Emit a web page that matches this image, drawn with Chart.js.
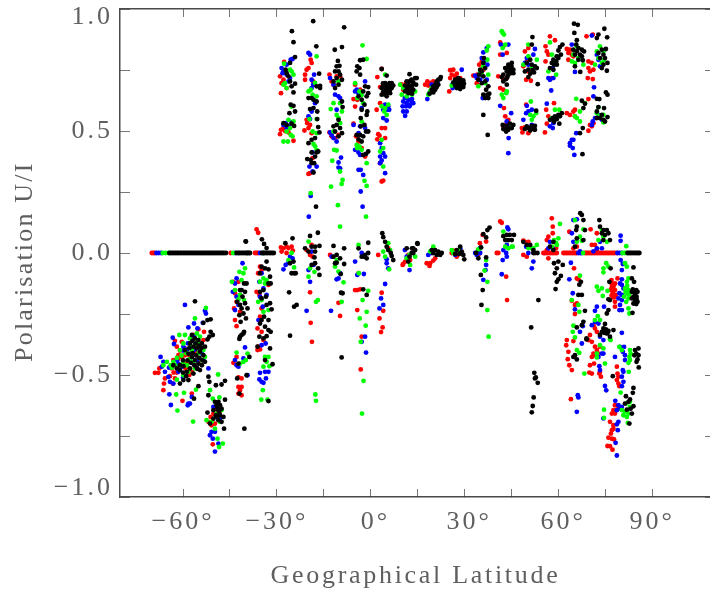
<!DOCTYPE html>
<html>
<head>
<meta charset="utf-8">
<title>Polarisation U/I</title>
<script src="https://cdn.jsdelivr.net/npm/chart.js@4"></script>
<style>
html, body { margin: 0; padding: 0; background: #fff; overflow: hidden; }
canvas { display: block; }
</style>
</head>
<body>
<canvas id="polChart" width="720" height="594"></canvas>
<script>
// tick values and labels
const latTicks = [-60, -45, -30, -15, 0, 15, 30, 45, 60, 75, 90];
const latLabels = ["\u221260\u00b0", "", "\u221230\u00b0", "", " 0\u00b0", "", " 30\u00b0", "", " 60\u00b0", "", "90\u00b0"];
const polTicks = [-1, -0.75, -0.5, -0.25, 0, 0.25, 0.5, 0.75, 1];
const polLabels = [["\u22121.0", ""], "", "\u22120.5", "", "0.0", "", "0.5", "", ["", "1.0"]];

// points, [latitude, U/I]
const redZero = [[-70,0],[-69.5,0],[-69,0],[-44.8,0],[-37,0],[-36.5,0],[-36,0],[55.2,0],[55.6,0],[56,0],[56.5,0],[57,0],[57.5,0],[58,0],[58.5,0],[59,0],[59.5,0],[61.6,0],[62,0],[62.5,0],[63,0],[63.5,0],[64,0],[64.5,0],[65,0],[65.5,0],[65.9,0],[68.5,0],[69,0],[69.5,0],[70,0],[70.5,0],[71,0],[71.5,0],[72,0],[72.5,0],[73,0],[73.5,0],[74,0],[74.5,0],[75,0],[75.5,0],[76,0],[76.5,0],[77,0],[77.5,0],[78,0],[78.7,0],[40.3,0],[40.8,0]];
const blueZero = [[-68.5,0],[-67.8,0],[-67,0],[-43.4,0],[-35.4,0],[66.4,0],[67,0],[67.5,0],[78.9,0],[79.6,0],[80.3,0]];
const greenZero = [[-66.5,0],[-65.6,0],[-64.7,0],[-44,0],[-34.3,0],[67.9,0],[80.5,0],[81.2,0],[81.9,0]];
const blackZero = [[-64.4,0],[-63.9,0],[-63.4,0],[-62.9,0],[-62.4,0],[-61.9,0],[-61.4,0],[-60.9,0],[-60.4,0],[-59.9,0],[-59.4,0],[-58.9,0],[-58.4,0],[-57.9,0],[-57.4,0],[-56.9,0],[-56.4,0],[-55.9,0],[-55.4,0],[-54.9,0],[-54.4,0],[-53.9,0],[-53.4,0],[-52.9,0],[-52.4,0],[-51.9,0],[-51.4,0],[-50.9,0],[-50.4,0],[-49.9,0],[-49.4,0],[-48.9,0],[-48.4,0],[-47.9,0],[-47.4,0],[-46.9,0],[-46.3,0],[-42.9,0],[-42.4,0],[-42,0],[-41.5,0],[-41,0],[-40.5,0],[-40,0],[-39.6,0],[-39.3,0],[-38.9,0],[-38.6,0],[-34.8,0],[-34.4,0],[-34,0],[-33.5,0],[-33,0],[-32.5,0],[-32,0],[-31.5,0],[-31,0],[82.1,0],[82.6,0],[83,0],[83.5,0],[84,0],[84.5,0],[85,0],[85.5,0],[85.9,0]];

const redUpper = [[-28.7,.655],[-27.7,.783],[-29,.724],[-27.9,.71],[-28.5,.696],[-26.9,.676],[-27.9,.512],[-28.7,.505],[-29,.487],[-27.4,.5],[-26.3,.494],[-24.7,.46],
[-19.2,.792],[-18.9,.779],[-21,.731],[-20.5,.751],[-19.9,.758],[-21,.71],[-18.4,.703],[-20.3,.532],[-19.4,.525],[-21.2,.502],[-19.9,.512],[-18.9,.491],[-18.6,.389],[-19.9,.324],[-19.4,.327],[-20.5,.546],
[-13.2,.731],[-12.5,.703],[-11.9,.69],[-10.9,.724],[-9.8,.724],[-13.2,.494],[-12.5,.478],[-11.4,.471],[-10.3,.484],
[-5.5,.631],[-5,.69],[-4.3,.628],[-3.4,.669],[-5.5,.53],[-4.7,.478],[-3.9,.457],[-2.9,.43],[-1.8,.395],[-5,.6],
[2.1,.721],[3,.68],[3.5,.754],[1.9,.587],[3,.614],[2.4,.487],[2.1,.466],[3.5,.512],[4.6,.512],[2.8,.481],[4.6,.471],[3.5,.293],[4,.297],[3,.368],
[9.9,.69],[10.4,.669],[11.3,.697],[12.1,.683],[9.6,.69],
[17.4,.69],[18.1,.703],[19,.697],[18.4,.686],[19.5,.669],[20,.703],
[25.4,.749],[26.4,.751],[25.4,.717],[25.9,.731],[25.1,.662],[27,.724],[27.5,.735],[28.6,.717],
[32.8,.727],[34.1,.731],[34.7,.772],[36,.751],[33.9,.696],[35.5,.785],
[41.4,.863],[42.4,.847],[41.4,.813],[43.5,.82],[40.8,.724],[41.4,.676],[42.4,.669],[43.5,.717],[42.4,.71],[42.6,.594],[43,.56],[44,.546],[42.4,.519],[43.5,.532],
[49.3,.826],[50.4,.84],[49.9,.785],[48.8,.765],[49.7,.71],[51.2,.706],[50.4,.744],[48.3,.512],[50.4,.491],[48.5,.494],[49.3,.515],[49.7,.608],
[57.3,.888],[55.9,.847],[58.9,.872],[56.3,.826],[56.8,.813],[55.9,.785],[57.9,.717],[58.6,.614],[56.1,.587],[56.8,.56],[55.7,.494],[56.3,.53],
[62.7,.836],[63.7,.833],[63.2,.82],[64.3,.813],[64.8,.806],[63.2,.792],[62.7,.573],[63.7,.566],[64.8,.58],[65.3,.56],[65.3,.587],
[69,.888],[71,.895],[69.6,.785],[70.7,.779],[69.6,.758],[70.1,.744],[71.2,.751],[69.4,.717],[71,.713],[69.6,.631],[70.1,.525],[70.7,.519],[69.6,.501],[71.2,.532]];
const blueUpper = [[-28.5,.758],[-27.9,.744],[-28.2,.737],[-26.9,.731],[-25.8,.717],[-26.3,.703],[-25.6,.792],[-25,.795],[-26.9,.772],[-27.9,.525],[-27.2,.532],[-26.3,.519],[-26.9,.512],[-25.3,.535],
[-19.9,.82],[-19.4,.813],[-18.9,.71],[-18.4,.69],[-18.9,.676],[-18.1,.731],[-17.8,.614],[-18.9,.58],[-19.9,.56],[-19.4,.549],[-18.6,.412],[-19.6,.354],[-18.6,.334],[-19.2,.234],[-19.8,.149],[-17.3,.354],
[-13,.717],[-11.9,.69],[-11.4,.649],[-10.3,.642],[-9.8,.635],[-10.9,.587],[-13,.494],[-11.9,.471],[-10.9,.457],[-12.5,.484],[-9.5,.391],[-10.3,.371],[-10.3,.35],[-9.8,.347],
[-1.8,.703],[-4.5,.669],[-5,.662],[-3.9,.655],[-2.9,.594],[-5.5,.525],[-3.4,.519],[-3.9,.491],[-1.8,.512],[-5,.423],[-3.9,.412],[-3.4,.402],[-3.9,.341],[-3.2,.341],[-2.4,.32],[-3.2,.252],[-2.6,.19],
[5.6,.601],[5.1,.587],[5.9,.587],[4,.587],[4.6,.608],[4,.553],[5.1,.543],[3,.45],[3.5,.43],[4,.409],[3,.395],[4.6,.395],[3.5,.379],[3,.368],[4.6,.327],
[10.4,.621],[11.5,.614],[12.6,.608],[13.6,.614],[10.2,.601],[11.3,.601],[12.4,.601],[10.4,.58],[11.5,.58],[11,.562],[12,.628],[13.2,.631],[10.9,.635],[13.1,.62],
[18.1,.631],[18.8,.655],[19.5,.69],[20.6,.672],[21.3,.699],
[26.1,.69],[27,.703],[29.1,.751],[28.4,.699],[26.2,.676],
[36,.822],[37.1,.84],[35.5,.799],[36.2,.785],[37.3,.772],[33.9,.717],[35,.71],[33.4,.727],[35.8,.635],[37.1,.71],
[41.6,.854],[42.2,.813],[44,.854],[41.4,.603],[44.9,.573],[44.1,.471],[44,.409],[43.5,.539],
[49.9,.799],[49.3,.779],[50.4,.772],[52.5,.836],[52,.813],[51.5,.587],[49.9,.603],[50.4,.58],[48.8,.546],[49.7,.573],[51.5,.525],
[57.7,.666],[57.3,.71],[58.4,.717],[56.8,.717],[58.2,.758],[57.3,.519],[58.4,.532],[56.3,.612],[58.2,.512],
[64.3,.854],[65.3,.742],[64.3,.464],[63.7,.45],[64.8,.464],[64.6,.43],[65.1,.402],[65.7,.491],[63.7,.44],
[70.7,.891],[71.4,.679],[71.2,.642],[72.3,.813],[72.8,.792],[73.3,.765],[71.7,.553],[72.8,.566],[71,.539],[73.9,.546],[70.7,.525]];
const greenUpper = [[-27.7,.776],[-27.4,.696],[-25.8,.751],[-25.3,.744],[-24.7,.731],[-26.9,.676],[-27.9,.69],[-25.3,.6],[-26.3,.546],[-24.7,.539],[-25.8,.512],[-26.9,.498],[-25.6,.484],[-27.9,.457],[-26.5,.457],[-25,.478],
[-17.3,.806],[-19.2,.669],[-19.9,.662],[-17.8,.697],[-18.6,.649],[-17.3,.642],[-19.6,.549],[-17.3,.549],[-18.6,.498],[-17.3,.491],[-18.3,.447],[-17.8,.437],[-17.3,.423],[-19.2,.245],
[-10.3,.703],[-11.9,.614],[-12.8,.59],[-9.8,.614],[-10.9,.566],[-10.3,.553],[-9.2,.58],[-9.8,.532],[-11.9,.498],[-11.7,.423],[-10.9,.42],[-12.3,.378],[-9.8,.334],[-9,.3],[-9.3,.283],[-12.7,.272],[-10.5,.196],[-9.8,.108],
[-2.6,.851],[-1.3,.795],[-5,.696],[-3.6,.662],[-4.3,.635],[-2.9,.648],[-2.4,.614],[-2.9,.539],[-4.5,.443],[-3.6,.436],[-2.9,.423],[-4.3,.43],[-1.3,.368],[-2,.296],[-1.3,.275],[-1.5,.149],
[4.6,.731],[4,.676],[3.5,.601],[4.6,.594],[4.3,.58],[5.6,.608],[5.1,.566],[3.5,.464],[4,.43],[3,.416],[4,.354],
[10.4,.676],[11.5,.642],[13.2,.649],[14.2,.662],[9.4,.69],[12.4,.669],[9.9,.649],
[18.4,.649],[19.5,.676],[19,.662],[21.1,.696],
[27,.69],[29.6,.696],[25.9,.686],[28,.68],
[37.6,.847],[37.1,.83],[36,.765],[35.5,.731],[37.6,.731],[35,.744],[36.6,.696],[34.4,.683],[37.3,.792],
[41.9,.909],[42.6,.895],[42.2,.902],[43,.854],[42.2,.84],[42.4,.635],[43.3,.655],[41.9,.649],[43.5,.662],
[50.4,.854],[51.5,.758],[53.1,.792],[48.8,.772],[50.4,.806],[52.5,.765],[51.2,.621],[52,.56],[51,.566],[52.9,.573],[51.5,.546],
[57.3,.863],[57.9,.813],[58.9,.779],[59.5,.806],[56.8,.744],[59.3,.731],[60.3,.587],[58.9,.587],[57.9,.553],
[65.7,.632],[65.9,.847],[64.8,.813],[66.4,.799],[65.3,.779],[68,.772],[64.3,.785],[66.9,.58],[65.9,.553],[66.9,.539],[65.3,.56],[68.5,.614],
[73.3,.847],[72.3,.826],[74.4,.826],[72.8,.799],[73.9,.779],[71.7,.772],[74.6,.792],[72.8,.597],[74.4,.566],[73.3,.56],[72.3,.573],[74.4,.535]];
const blackUpper = [[-25.2,.909],[-24.7,.864],[-24.2,.803],[-25.8,.779],[-27.2,.751],[-26.9,.737],[-26.3,.724],[-25.8,.703],[-24.7,.658],[-24.2,.694],[-25.3,.683],[-25.6,.608],[-24.7,.603],[-26,.573],[-24.2,.58],[-27.9,.532],[-26.9,.525],[-25.3,.53],[-24.5,.521],
[-18.4,.95],[-17.4,.847],[-16.5,.735],[-16.2,.685],[-17.3,.683],[-18.9,.635],[-19.9,.635],[-18.3,.628],[-17.3,.621],[-19.4,.59],[-18.3,.594],[-17.1,.549],[-16.8,.516],[-16.4,.494],[-17.8,.471],[-18.9,.464],[-19.9,.45],[-18.9,.412],[-17.3,.412],[-16.8,.416],[-17.8,.395],[-19.2,.382],[-18.1,.368],[-18.3,.33],[-18.9,.368],[-16.2,.676],[-17.1,.58],[-20.3,.385],[-17.5,.19],
[-8.5,.925],[-9.2,.844],[-11.5,.833],[-10.5,.787],[-10.9,.765],[-10,.767],[-11.4,.744],[-10.3,.744],[-10.9,.717],[-9.8,.731],[-9.2,.71],[-11.9,.703],[-10.3,.69],[-11.4,.676],[-9.2,.621],[-9,.598],[-10.3,.546],[-11.9,.519],[-10.9,.525],[-9.8,.512],[-11.4,.498],[-9.2,.491],[-10.3,.478],
[-3.4,.79],[-2.4,.792],[-4.3,.765],[-3.6,.758],[-4.5,.744],[-3.4,.731],[-1.8,.683],[-.8,.68],[-2.4,.662],[-.8,.655],[-1.3,.642],[-2.9,.628],[-3.9,.642],[-2,.608],[-1.1,.58],[-2.9,.587],[-1.3,.566],[-3.2,.553],[-2,.525],[-3.2,.519],[-1.5,.498],[-.8,.498],[-3.4,.484],[-4.5,.484],[-2.4,.478],[-3.9,.466],[-2.9,.457],[-.8,.416],[-2.4,.402],[-1.5,.406],
[3.5,.754],[5.1,.727],[4.6,.696],[5.6,.69],[6.7,.696],[3.5,.676],[4.6,.676],[5.6,.676],[6.7,.676],[7.2,.686],[4,.662],[5.1,.655],[6.2,.655],[3.5,.649],[5.1,.642],[5.1,.686],[4,.686],[6.2,.669],[4.6,.666],[6,.696],
[4.2,.68],[5,.67],[5.8,.66],[6.4,.685],[4.4,.65],[3.9,.695],
[12.4,.733],[14.2,.717],[14.7,.717],[11.5,.703],[12.4,.703],[13.6,.699],[11,.686],[12.1,.686],[13.2,.686],[14.5,.69],[11.5,.669],[12.4,.669],[13.6,.669],[12.1,.655],[13.2,.653],[11,.662],
[12,.675],[13,.675],[12.8,.66],[12,.7],[13,.71],
[22.4,.721],[21.6,.71],[21.1,.703],[20.6,.69],[21.6,.69],[20,.683],[21.1,.68],[19.5,.669],[20.6,.669],[18.8,.653],[20,.658],[22.2,.713],
[28,.717],[27,.71],[28.6,.71],[29.6,.707],[26.4,.699],[27.5,.699],[28.6,.696],[29.8,.694],[27,.686],[28,.686],[29.1,.683],[27.5,.676],[28.6,.672],[29.6,.68],
[36.2,.799],[36,.779],[36.6,.758],[35.5,.744],[35,.751],[34.7,.731],[36,.724],[34.4,.71],[36.6,.703],[35.5,.696],[37.6,.683],[36.9,.669],[37.9,.653],[37.3,.649],[36,.649],[36.6,.635],[37.6,.635],[36,.566],[37.4,.484],
[45.1,.779],[44,.772],[43,.758],[44.5,.758],[45.6,.751],[43.5,.744],[44.8,.737],[42.4,.731],[44,.731],[43.7,.721],[45.6,.737],[41.9,.721],[43.3,.713],[42.4,.703],[43.5,.69],
[44.6,.745],[43.8,.76],[45,.765],
[42.2,.525],[43.5,.521],[44.5,.53],[45.6,.525],[43,.508],[44,.512],[45.1,.512],[43.3,.498],[44,.505],[42.4,.508],
[51.7,.885],[51.5,.854],[51,.792],[49.9,.779],[51.5,.772],[52.5,.765],[53.1,.758],[50.4,.751],[51.8,.749],[49.3,.744],[51,.735],[52.2,.74],[50.4,.721],[53.4,.692],
[52.9,.583],[49.9,.519],[51.5,.521],[52.5,.521],[50.4,.512],[52,.508],[51,.502],[49.3,.508],[52.5,.505],
[61.3,.854],[60.5,.844],[60,.83],[60.8,.813],[59.5,.806],[60,.799],[58.4,.792],[59.3,.785],[57.9,.779],[58.6,.772],[59.5,.772],[57.3,.758],[58.4,.751],
[61.1,.573],[60,.566],[58.9,.56],[60.5,.56],[59.5,.549],[58.2,.553],[58.6,.539],[60.3,.53],[57.3,.546],
[65,.94],[66.2,.935],[65.1,.902],[65.9,.872],[65.7,.854],[64.8,.833],[66.4,.84],[67.5,.833],[65.9,.826],[68.2,.826],[66.9,.813],[65.3,.813],[67.5,.806],[66.4,.792],[67.8,.79],[65.3,.765],[67,.742],
[67.5,.624],[68.5,.612],[68,.594],[67.8,.512],[66.9,.491],[67.7,.405],
[74.7,.919],[72.8,.895],[72.3,.881],[75.6,.884],[75.2,.836],[73.9,.833],[72.8,.82],[74.4,.813],[73.3,.799],[74.9,.799],[75.7,.779],[74.4,.772],[73.9,.758],[75.5,.747],
[75.2,.658],[75.7,.649],[72.3,.632],[73.1,.631],[72.8,.598],[74.6,.594],[72.3,.58],[73.9,.566],[75.7,.557],[73.3,.553],[74.4,.546],[72.3,.553],[74.9,.539]];

const redNearZero = [[-36.5,.097],[-36,.083],[-27.9,.019],[-28.5,.006],[-26.9,0],[-25.3,.026],[-26.9,.026],[-28.7,.023],[-26.3,.02],[-24.9,.01],
[-20.5,.012],[-19.4,-.008],[-18.6,-.015],[-18.9,.033],[-19.4,-.161],[-19.2,-.286],[-18.8,-.364],
[-13,-.008],[-10.3,-.204],[-9.8,-.258],
[-5,-.152],[-4.3,-.152],[-3.4,-.149],[-3.9,-.083],[-4.3,-.234],[-2.9,-.343],[-3.2,-.477],
[2.4,-.008],[3.5,-.163],[4,-.237],[2.8,-.268],[3.8,-.305],[3.3,-.324],[5.6,.019],
[10.4,-.045],[12,-.008],[11,-.035],[10.2,-.049],[12.6,-.029],
[17.9,-.042],[19,-.042],[20,-.031],[18.8,-.053],[20.6,-.022],
[26.4,.01],[27.5,-.015],[25.9,0],
[35.8,.074],[34.9,.04],[34.4,.01],[36.9,.047],[34.4,-.008],
[41.4,.129],[41.9,.124],[43.3,-.097],[43.6,-.193],
[48.8,.051],[50.4,.046],[49.3,.046],[48.8,-.008],[49.9,-.015],
[57.9,.142],[58.2,.108],[58.2,.081],[56.8,.067],[56.3,.053],[56.3,.012],[59.3,.02],[56.8,-.022],
[63.5,.087],[64.8,.019],[65.9,.026],[65,-.063],[65.9,-.104],[66.4,-.108],[64.3,-.196],[65.9,-.207],[65.3,-.213],[65.3,-.25],[62.7,-.357],[62.5,-.378],[64.8,-.361],[63.2,-.405],[63,-.435],[63.5,-.46],[64.3,-.48],[64,-.599],
[70.3,.097],[72.3,.081],[70.7,.033],[71.7,.033],[72.3,.012],
[77,-.125],[78.1,-.125],[77.6,-.138],[76.7,-.152],[78.1,-.152],[77.4,-.165],[78.4,-.172],[77.6,-.182],[78.1,-.2],[78.1,-.22],[77,-.111],[78.9,-.104],
[77.1,-.14],[77.5,-.155],[78,-.18],[77,-.175],[77.8,-.13],
[71.2,-.296],[71.7,-.309],[70.1,-.336],[72.3,-.323],[70.7,-.364],[69.6,-.357],[71.7,-.384],[73.3,-.384],[72.3,-.398],[71.2,-.412],[72.8,-.412],[70.7,-.426],[70.1,-.46],[71.4,-.453],[69.9,-.49],[70.7,-.494],[73.1,-.494],[73.6,-.507],[73.3,-.487],[71.7,-.419],
[78.1,-.624],[79.2,-.631],[77.6,-.644],[77.1,-.658],[78.1,-.658],[76.5,-.692],[77.6,-.706],[77.1,-.726],[77.6,-.72],[76.8,-.74],[76,-.757],[77.1,-.761],[77.8,-.764],[75.7,-.791],[76.5,-.792],[77.3,-.806],[78.7,-.466],[78.9,-.494],[79.2,-.507],[78.7,-.521],[79.2,-.535],[79.5,-.546]];
const blueNearZero = [[-27.9,-.067],[-27.2,-.049],[-25.8,-.015],[-25,-.022],[-26.3,-.04],
[-19.9,-.07],[-19.4,-.118],[-20.5,-.237],[-18.3,-.049],[-18.9,.006],
[-12.5,-.015],[-10.9,-.108],[-10.3,-.104],[-12.7,-.237],[-9.8,-.083],
[-1.5,-.408],[-2.2,-.086],[-1.8,-.343],[-5,-.035],[-2.9,0],[-4.3,-.09],[-2.9,-.364],
[4.6,-.127],[3.3,-.186],[4,-.213],[2.8,-.227],[5.1,-.042],[5.6,-.063],[5.1,-.026],
[10.9,.012],[12.4,-.07],[11.5,-.015],
[18.4,-.008],[19.5,0],[20,.012],
[27,-.008],[28.6,.019],
[34.9,.02],[33.4,0],[33.9,-.008],[36.9,-.049],[36.7,-.07],[36,-.11],[35,0],
[43.7,.105],[44,.097],[43.5,.033],[42.4,.012],[43.3,0],[43.5,-.015],[41.9,-.087],[42.2,-.029],
[49.9,.026],[50.4,0],[52,-.035],[51.5,-.063],[49.7,.026],
[57.3,.046],[58.2,.019],[56.8,.019],
[64.8,.135],[65.9,.138],[64.3,.081],[64.8,.046],[66.9,.007],[64,-.04],[63.5,-.108],[64.6,-.165],[65.3,-.231],[66.9,-.323],[67.5,-.371],[66.2,-.583],[66.4,-.592],[65.9,-.651],[67.8,-.3],
[71.2,.007],[72.3,.019],[73.9,.019],[79.9,.071],[79.9,.05],[73.3,.046],
[79.9,-.029],[80.6,-.045],[80.3,-.07],[80.3,-.108],[79.7,-.125],[80.3,-.131],[80.8,-.145],[79.5,-.165],[80.3,-.172],[79.2,-.186],[80.3,-.193],[79.7,-.213],[79.5,-.234],[80.3,-.234],[80.3,-.327],
[78.2,-.606],[79.2,-.624],[79.7,-.638],[78.7,-.644],[80.3,-.631],[79.2,-.692],[78.7,-.702],[79,-.726],[78.3,-.778],[78.7,-.83],[74.4,-.678],[80.8,-.487],[80.3,-.507],[80.8,-.528],[80.3,-.546],[74.9,-.545],[75.3,-.563],
[79.7,-.385],[81,-.385],[80.6,-.405],[81.3,-.419],[78.1,-.426],[81.3,-.439],[80.6,-.48],
[72.3,-.22],[74.6,-.22],[71.7,-.237],[71.7,-.282],[72.8,-.289],[70.7,-.296],[74.4,-.357],[73.3,-.343],[73.9,-.412],[72.8,-.426],[74.4,-.412],[73.1,-.464],[73.3,-.48]];
const greenNearZero = [[-26.3,-.029],[-24.5,-.059],[-25.3,0],
[-19.9,-.097],[-19.9,.047],[-19.4,-.063],[-18,-.077],[-16.9,-.193],[-17.5,-.2],[-17.7,-.58],[-17.5,-.606],
[-10.9,-.029],[-11.4,-.056],[-8.7,-.12],[-9.3,-.2],[-10.3,-.076],
[-3.9,.033],[-3.5,-.268],[-.8,-.155],[-1.3,-.241],[-1.6,-.298],[-2.6,-.193],[-3.2,-.364],[-2.3,-.524],[-2.8,-.658],[-3.8,-.083],
[4,.006],[4.6,-.015],[6.2,.012],[5.6,.04],[5.9,-.067],
[11.5,-.022],[14.2,-.015],[12.4,-.008],[12.6,-.049],
[20,.026],[19,.006],
[26.4,0],[28,.012],[25.9,.012],
[34.4,.015],[35,.019],[36.9,-.029],[36.4,-.072],[37.3,-.118],[37.3,-.234],[37.7,-.343],
[42.4,.088],[43.5,.053],[45.1,.026],[44,.019],[43,.026],[45.4,.026],
[50.4,.02],[52,.02],[53.1,.033],[51.5,.019],
[60.5,.119],[60,.06],[58.6,.053],[57.9,.026],[59.5,.033],[59.3,.04],
[65.3,.135],[68,.097],[66.9,.067],[65.9,.046],[67.5,.05],[66.9,-.093],[64.3,-.193],[66.4,-.213],[66.7,-.241],[64.8,-.298],[64.6,-.323],[65.3,-.346],[66.7,-.409],[68.3,-.494],[65.9,-.398],
[73.9,.094],[72.8,.053],[74.4,.067],[75.5,.046],[81.7,.028],
[74.4,-.063],[75.3,-.042],[76,-.056],[74.4,-.079],[72.3,-.138],[73.9,-.145],[72.8,-.155],[75.7,-.155],[74.2,-.176],[81.3,-.042],[81.9,-.056],[82.4,-.104],[81.9,-.118],[81.3,-.145],[82.4,-.152],[81.9,-.165],[81,-.179],[82.4,-.186],[81.7,-.2],[82.4,-.227],[82.7,-.248],
[82,-.135],[82.6,-.17],[81.5,-.16],
[79.9,-.572],[81.7,-.617],[82.9,-.631],[80.3,-.644],[81.3,-.651],[82.4,-.658],[80.8,-.665],[81.9,-.672],[82.2,-.696],[74.6,-.642],[74.6,-.676],[82.9,-.61],
[79.5,-.385],[80.3,-.398],[82.9,-.398],[83.1,-.412],[82.7,-.426],[82.9,-.439],[82.4,-.45],[82.5,-.487],
[72.6,-.259],[73.3,-.275],[71.7,-.275],[76.5,-.353],[73.3,-.378],[72.3,-.412],[74.4,-.391],[72.3,-.428],[74.9,-.453],[76.7,-.357]];
const blackNearZero = [[-40,.048],[-34.8,.056],[-34.1,.037],[-33.3,.02],[-27.3,.04],[-25,.06],[-24.5,-.083],[-24,-.083],[-25.3,-.083],[-24.7,-.035],[-25.8,-.042],[-26.1,-.161],[-24.5,-.22],[-23.7,-.213],[-25.8,-.339],
[-16.9,.083],[-19.4,.07],[-21,.019],[-18.9,.026],[-17.8,.026],[-16.4,.029],[-19.9,.006],[-17.8,.006],[-18.9,-.049],[-17.8,-.042],[-16.8,-.063],[-16.4,-.09],[-18,-.018],
[-11.9,.029],[-8.5,.019],[-11.9,-.015],[-10.9,-.008],[-9.8,-.022],[-10.9,-.04],[-8.5,-.045],[-11.4,-.042],[-9.6,-.086],[-9.5,-.163],[-9,-.165],[-9.3,-.428],
[-.8,.042],[-3.9,.019],[-1.8,-.008],[-2.9,-.015],[-.8,0],[-1.3,-.022],[-2.2,-.015],[-2.4,-.149],[-1.3,-.172],
[3.7,.081],[4,.065],[4.6,.046],[5.1,.026],[5.6,.012],[6.4,0],[6.7,-.012],[7.2,-.029],
[15,.037],[13.2,.019],[14.2,.012],[12.4,-.015],[13.6,0],[13.6,.019],[11.5,.019],[13.1,0],[12,-.035],[14.9,.04],
[19.5,.012],[20.6,.012],[21.6,.006],[22.7,0],[21.1,-.008],[20,0],[22.2,-.008],
[28.6,.026],[27.5,.012],[29.1,.006],[28.3,-.004],[29.6,-.008],[29.9,-.026],[27,-.004],
[38,.104],[37.3,.094],[36,.077],[36.9,.064],[35.3,.023],[36.9,-.018],[35.2,-.09],[35.8,-.152],[35.4,-.213],[34.4,-.022],[33.7,0],
[42.4,.069],[43.5,.074],[44.5,.074],[45.8,.074],[45.1,.053],[44,.053],[43,.053],
[48.8,.046],[49.9,.033],[51,.033],[52,.012],[53.3,0],[52,0],[52.5,0],[53.6,-.193],[51.3,-.305],[52.3,-.491],[52.8,-.51],[53.4,-.532],[52.1,-.592],[51.8,-.627],[51.5,-.653],[52.5,-.514],
[58.4,.046],[57.3,.026],[58.4,.012],[58.6,-.042],[60,-.035],[61.4,-.049],[59.5,-.063],[58.9,-.083],[60.8,-.094],[60,-.108],[59.5,-.118],[59.1,-.148],
[67,.163],[67.5,.156],[68,.135],[65.9,.108],[65.7,.094],[68.5,.094],[68,.053],[65.9,.06],[65.3,.026],[67.2,-.118],[66.7,-.13],[66.4,-.172],[67.5,-.172],[68.5,-.237],[68,-.282],[67.5,-.296],[65.9,-.305],[69,-.354],[64.8,-.426],[65.3,-.419],[65.9,-.436],
[73.1,.135],[73.3,.108],[74.4,.094],[75.5,.094],[73.9,.081],[74.9,.074],[76,.081],[74.4,.053],[76.5,.053],
[84,-.059],[83.5,-.104],[84.2,-.118],[83.8,-.149],[84.9,-.152],[83.5,-.159],[84.5,-.165],[85.3,-.159],[84,-.179],[85,-.179],[83.5,-.186],[84.5,-.193],[85.3,-.2],[84,-.207],[84.9,-.209],[83.7,-.245],[76.7,-.063],[76.3,-.118],[76,-.19],[76,-.234],[75.5,-.248],[76.5,-.193],
[84.6,-.175],[84.2,-.16],[85,-.19],
[74.4,-.309],[75.2,-.313],[76,-.319],[73.9,-.323],[74.6,-.327],[75.5,-.33],[73.3,-.336],[76.5,-.343],[77.6,-.316],[74.9,-.291],[69,-.35],[75,-.32],[75.8,-.325],
[85.6,-.391],[84.5,-.398],[84.9,-.412],[85.6,-.419],[84.3,-.419],[85.3,-.436],[85,-.446],[85.7,-.469],
[84,-.553],[83.8,-.573],[81.6,-.587],[82.9,-.6],[82.4,-.61],[81.3,-.617],[84,-.628],[83.1,-.638],[81.9,-.642],[83.5,-.658],[82.7,-.699],[77.4,-.505]];

const redSouth = [[-69,-.491],[-67.9,-.491],[-67.6,-.473],[-65.8,-.514],[-66.1,-.535],[-66.3,-.562],[-63.3,-.535],[-62.6,-.514],[-61.5,-.419],[-60.4,-.426],[-61.8,-.436],[-59.9,-.453],[-62.6,-.36],[-62,-.384],[-63.6,-.473],[-64.2,-.505],[-60.4,-.364],[-59.4,-.419],[-58.8,-.453],[-57.2,-.576],[-60.2,-.606],[-56.7,-.336],[-58,-.371],[-55.1,-.313],[-53.3,-.323],[-53.5,-.357],[-54.6,-.439],[-56.2,-.466],[-57.2,-.487],[-59.2,-.473],[-63.1,-.439],[-61.2,-.428],
[-61,-.4],[-59.5,-.39],[-61,-.47],[-58,-.42],[-56,-.41],[-62,-.49],[-63,-.49],[-58,-.5],
[-51.2,-.672],[-50.3,-.658],[-49.3,-.638],[-48.2,-.651],[-50.9,-.706],[-49.8,-.699],[-50.5,-.784],[-51.9,-.692],
[-43.4,-.275],[-42.9,-.3],[-44.1,-.118],[-42.3,-.118],[-43.4,-.165],[-42.9,-.2],[-43.7,-.227],[-41.8,-.241],[-43.9,-.45],[-42.9,-.426],[-42.3,-.51],[-41.3,-.514],[-42.3,-.549],[-41.3,-.549],[-42.3,-.576],[-41.3,-.583],[-41.8,-.562],
[-35.4,-.056],[-34.9,-.07],[-36,-.083],[-36.5,-.159],[-35.6,-.172],[-34.9,-.227],[-35.4,-.261],[-36.2,-.309],[-34.9,-.323],[-36,-.384],[-35.4,-.395],[-36.2,-.398],[-34.3,-.357],[-32.7,-.131]];
const blueSouth = [[-59.4,-.213],[-53,-.237],[-52.7,-.248],[-56.5,-.289],[-58.3,-.305],[-55.4,-.309],[-56.5,-.343],[-63.3,-.347],[-62.9,-.373],[-59.9,-.384],[-58.8,-.395],[-67.2,-.426],[-66.3,-.446],[-66.8,-.466],[-65.8,-.487],[-64.7,-.508],[-64.2,-.528],[-63.1,-.535],[-64.4,-.579],[-63.9,-.623],[-58.3,-.617],[-57.8,-.617],[-58.5,-.624],[-61.5,-.453],[-60.4,-.466],[-57.8,-.439],[-57.2,-.59],[-54,-.412],[-51.9,-.473],[-53.5,-.439],[-56.2,-.395],[-54.6,-.384],[-55.1,-.371],[-53.7,-.286],[-61.5,-.487],
[-60,-.4],[-58.5,-.37],[-57,-.41],[-62,-.44],[-64.5,-.47],[-60,-.51],[-55.5,-.44],
[-51.4,-.747],[-50.5,-.761],[-49.8,-.733],[-50.9,-.733],[-48.7,-.781],[-49.8,-.814],[-50.3,-.631],[-48.2,-.679],[-49.3,-.672],
[-41,-.042],[-42.9,-.104],[-43.4,-.125],[-44.1,-.159],[-42.9,-.179],[-42.3,-.213],[-43.4,-.234],[-40.2,-.387],[-43.4,-.439],[-42.3,-.466],[-40.7,-.432],[-39.4,-.501],[-42.9,-.46],
[-34.9,-.083],[-35.6,-.118],[-34.3,-.145],[-35.4,-.179],[-33.3,-.172],[-34.5,-.22],[-35.9,-.275],[-33.6,-.371],[-34.9,-.378],[-33.8,-.487],[-32.7,-.487],[-35.4,-.491],[-33.5,-.514],[-34.3,-.532],[-35.6,-.518],[-34.9,-.528]];
const greenSouth = [[-52.7,-.225],[-56.2,-.268],[-61.2,-.336],[-59.4,-.336],[-54.6,-.343],[-57.8,-.35],[-55.1,-.364],[-56.2,-.378],[-59.9,-.371],[-61,-.398],[-57.2,-.398],[-54.6,-.405],[-65.2,-.446],[-63.1,-.446],[-63.6,-.47],[-62.6,-.46],[-61,-.46],[-58.8,-.46],[-58.3,-.487],[-59.9,-.501],[-62,-.519],[-56.2,-.473],[-56.7,-.446],[-53,-.426],[-62.2,-.58],[-59.7,-.573],[-55.9,-.56],[-61.8,-.646],[-56.8,-.691],[-54,-.439],[-55.6,-.33],[-66.3,-.46],[-53.5,-.398],
[-57.5,-.385],[-55,-.41],[-60.5,-.42],[-62,-.43],[-58,-.435],[-59,-.41],[-60,-.45],[-64,-.46],
[-48.8,-.498],[-51.4,-.562],[-50.5,-.597],[-48.4,-.592],[-47.7,-.644],[-49.3,-.658],[-52.5,-.685],[-50.9,-.692],[-48.2,-.692],[-49.8,-.72],[-49,-.761],[-47.3,-.781],[-48.5,-.795],
[-40.2,-.063],[-40.7,-.083],[-42,-.077],[-44.4,-.118],[-41.3,-.111],[-43.4,-.152],[-41.8,-.172],[-40.5,-.193],[-42.3,-.19],[-42.9,-.408],[-41.8,-.453],[-40.7,-.446],[-39.9,-.439],[-39.4,-.412],
[-35.4,-.118],[-34.3,-.104],[-33.8,-.125],[-33.3,-.111],[-36,-.2],[-34.9,-.193],[-32.7,-.234],[-34.3,-.241],[-33.8,-.426],[-32.7,-.426],[-33.3,-.446],[-34.3,-.466],[-32.4,-.464],[-34.5,-.562],[-35,-.601],[-33,-.601]];
const blackSouth = [[-56.2,-.198],[-52.2,-.275],[-51.2,-.272],[-53.5,-.286],[-51.2,-.323],[-50.5,-.336],[-51.6,-.343],[-52.2,-.354],[-57.2,-.336],[-56.2,-.35],[-55.1,-.357],[-54,-.371],[-53,-.384],[-57.8,-.371],[-56.7,-.384],[-55.6,-.391],[-54.6,-.405],[-53.5,-.419],[-59.4,-.398],[-58.3,-.412],[-57.2,-.426],[-56.2,-.439],[-55.1,-.453],[-54,-.46],[-53,-.446],[-63.1,-.46],[-62,-.473],[-61,-.48],[-59.9,-.464],[-58.8,-.487],[-57.8,-.473],[-56.7,-.494],[-55.6,-.47],[-54.6,-.48],[-51.9,-.507],[-61,-.535],[-55.1,-.546],[-58.3,-.521],[-59.9,-.521],[-56.5,-.597],[-51.6,-.528],[-51.9,-.583],
[-57,-.36],[-56,-.37],[-55,-.38],[-54.2,-.39],[-58,-.39],[-57,-.41],[-55.8,-.42],[-54.8,-.43],[-53.8,-.44],[-58.6,-.44],[-57.5,-.45],[-56.4,-.46],[-55.4,-.475],[-60,-.44],[-61,-.46],[-60,-.49],[-59,-.505],
[-46.6,-.524],[-47.7,-.539],[-49.5,-.542],[-46.6,-.601],[-49.8,-.61],[-48.7,-.61],[-49.3,-.624],[-48.2,-.624],[-50.3,-.644],[-48.7,-.644],[-47.7,-.638],[-52.2,-.654],[-49.5,-.665],[-48.2,-.665],[-47.1,-.672],[-50.3,-.679],[-48.7,-.685],[-47.7,-.692],[-51.4,-.699],[-46.9,-.72],[-49,-.635],[-48.5,-.65],[-49,-.67],
[-39.9,.047],[-40.5,-.125],[-39.7,-.125],[-41.3,-.152],[-40.2,-.159],[-41.8,-.152],[-41,-.179],[-42.7,-.2],[-41.8,-.213],[-40.2,-.206],[-39.4,-.227],[-41.3,-.227],[-40.7,-.248],[-42,-.255],[-39.9,-.268],[-41.6,-.282],[-40.7,-.33],[-41.3,-.336],[-41.8,-.343],[-40.5,-.323],[-42,-.352],[-38.8,-.426],[-42.3,-.453],[-42.7,-.514],[-39.7,-.501],[-40.4,-.72],[-42,-.576],
[-33.3,-.035],[-34.9,-.056],[-33.8,-.063],[-32.7,-.067],[-35.4,-.083],[-32.2,-.097],[-32.7,-.125],[-32,-.125],[-34.3,-.152],[-35.4,-.159],[-33.5,-.179],[-34.9,-.186],[-32.2,-.206],[-33.3,-.213],[-31.7,-.231],[-34.1,-.261],[-34.9,-.275],[-32.7,-.275],[-35.4,-.289],[-33.8,-.302],[-32.7,-.316],[-32,-.323],[-33.3,-.341],[-34.3,-.35],[-35.6,-.343],[-32.2,-.391],[-36.2,-.384],[-31.4,-.456],[-32.7,-.607],[-33.8,-.439]];

const redPoints = [...redZero, ...redUpper, ...redNearZero, ...redSouth];
const bluePoints = [...blueZero, ...blueUpper, ...blueNearZero, ...blueSouth];
const greenPoints = [...greenZero, ...greenUpper, ...greenNearZero, ...greenSouth];
const blackPoints = [...blackZero, ...blackUpper, ...blackNearZero, ...blackSouth];

function toXY(list) {
    return list.map(p => ({ x: p[0], y: p[1] }));
}

// ticks point inwards, and no outside margins get reserved
function fixedBox(size) {
    return function (scale) {
        if (scale.isHorizontal()) scale.height = size;
        else scale.width = size;
        scale.paddingTop = scale.paddingBottom = scale.paddingLeft = scale.paddingRight = 0;
    };
}

// the original text is wide, letter spacing only while titles and tick labels draw
function spaced(scale, titleGap, tickGap) {
    if (scale._spaced) return;
    scale._spaced = true;
    const drawTitle = scale.drawTitle;
    const drawLabels = scale.drawLabels;
    scale.drawTitle = function (area) {
        this.ctx.letterSpacing = titleGap;
        drawTitle.call(this, area);
        this.ctx.letterSpacing = "0px";
    };
    scale.drawLabels = function (area) {
        this.ctx.letterSpacing = tickGap;
        drawLabels.call(this, area);
        this.ctx.letterSpacing = "0px";
    };
}

const axisColor = "#4a4a4a";
const tickColor = "#777";
const textColor = "#5f5f5f";

function pointSet(list, color) {
    return {
        data: toXY(list),
        showLine: false,
        backgroundColor: color,
        borderWidth: 0,
        pointRadius: 2.4,
        pointHoverRadius: 2.4
    };
}

new Chart(document.getElementById("polChart").getContext("2d"), {
    type: "scatter",
    data: {
        // first dataset is drawn last, so black stays on top
        datasets: [
            pointSet(blackPoints, "#000000"),
            pointSet(greenPoints, "#00ff00"),
            pointSet(bluePoints, "#0000ff"),
            pointSet(redPoints, "#ff0000")
        ]
    },
    options: {
        responsive: false,
        animation: false,
        events: [],
        layout: { padding: { top: 9, right: 9, left: 0, bottom: 0 } },
        plugins: { legend: { display: false }, tooltip: { enabled: false } },
        scales: {
            x: {
                type: "linear",
                min: -80.17,
                max: 108.8,
                afterBuildTicks: s => { s.ticks = latTicks.map(v => ({ value: v })); },
                afterFit: s => { fixedBox(97)(s); spaced(s, "2.7px", "3px"); },
                border: { color: axisColor, width: 1.5 },
                grid: { drawOnChartArea: false, tickLength: -8, color: tickColor, tickWidth: 1 },
                ticks: {
                    autoSkip: false,
                    maxRotation: 0,
                    padding: 18,
                    color: textColor,
                    font: { family: "Liberation Serif", size: 26 },
                    callback: (v, i) => latLabels[i]
                },
                title: {
                    display: true,
                    text: "Geographical Latitude",
                    color: textColor,
                    padding: { top: 0, bottom: 2 },
                    font: { family: "Liberation Serif", size: 26 }
                }
            },
            xTop: {
                type: "linear",
                position: "top",
                min: -80.17,
                max: 108.8,
                afterBuildTicks: s => { s.ticks = latTicks.map(v => ({ value: v })); },
                afterFit: fixedBox(0),
                border: { color: axisColor, width: 1.5 },
                grid: { drawOnChartArea: false, tickLength: -8, color: tickColor },
                ticks: { display: false }
            },
            y: {
                type: "linear",
                min: -1,
                max: 1,
                afterBuildTicks: s => { s.ticks = polTicks.map(v => ({ value: v })); },
                afterFit: s => { fixedBox(120)(s); spaced(s, "2.2px", "3px"); },
                border: { color: axisColor, width: 1.5 },
                grid: { drawOnChartArea: false, tickLength: -10, color: tickColor },
                ticks: {
                    autoSkip: false,
                    padding: 17,
                    color: textColor,
                    font: { family: "Liberation Serif", size: 26, lineHeight: 0.66 },
                    callback: (v, i) => polLabels[i]
                },
                title: {
                    display: true,
                    text: "Polarisation U/I  ",
                    color: textColor,
                    padding: { top: 10, bottom: 0 },
                    font: { family: "Liberation Serif", size: 26 }
                }
            },
            yRight: {
                type: "linear",
                position: "right",
                min: -1,
                max: 1,
                afterBuildTicks: s => { s.ticks = polTicks.map(v => ({ value: v })); },
                afterFit: fixedBox(0),
                border: { display: false },
                grid: { drawOnChartArea: false, tickLength: -6, color: tickColor },
                ticks: { display: false }
            }
        }
    }
});
</script>
</body>
</html>
